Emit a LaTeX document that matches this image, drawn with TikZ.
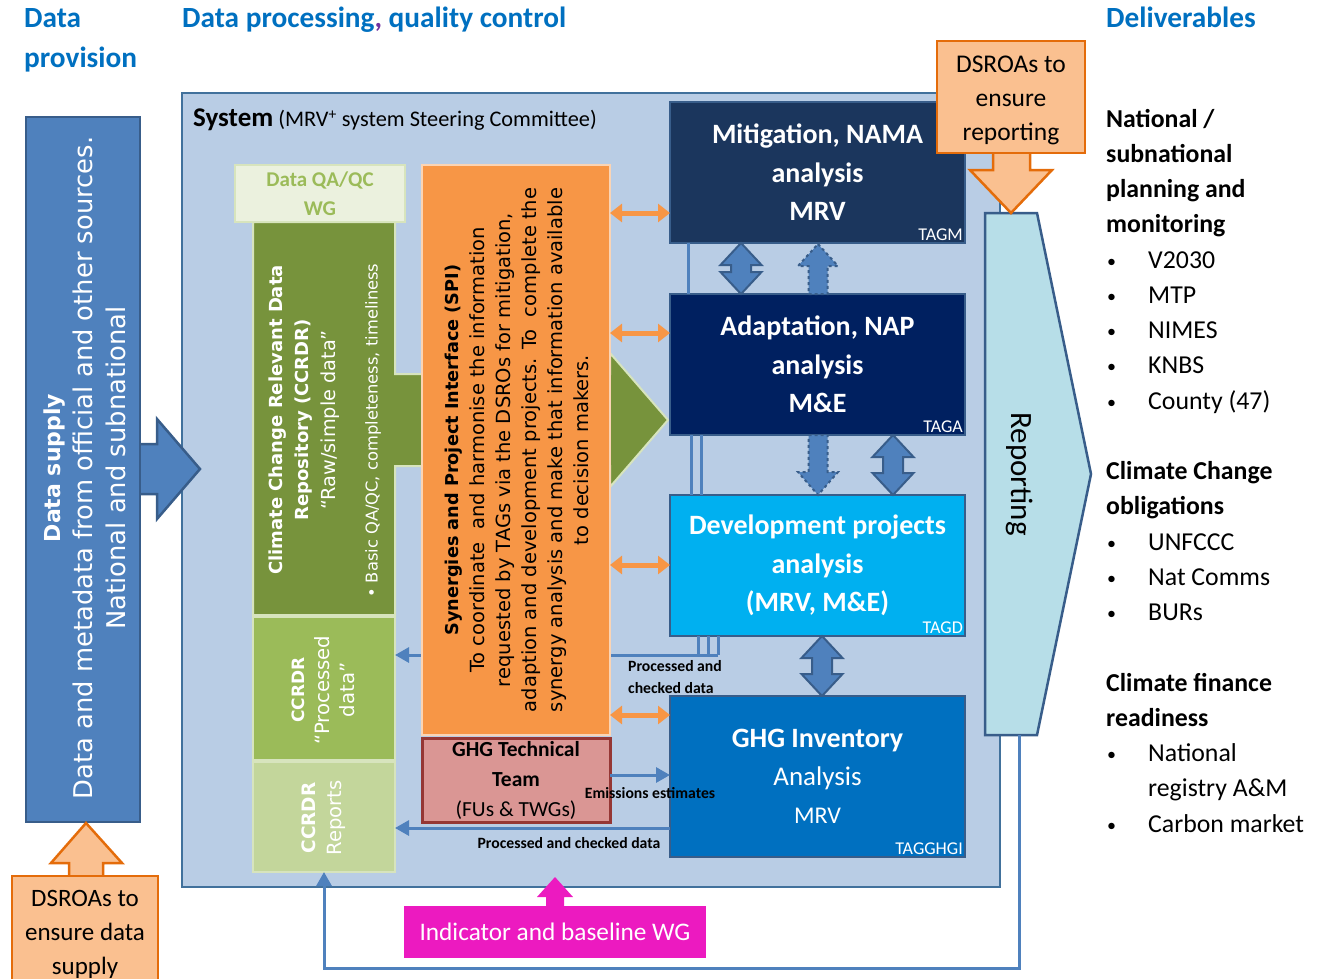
\documentclass[tikz,border=0pt]{standalone}
\usepackage{fontspec}
\setmainfont{Carlito}
\newfontfamily\vfont{DejaVu Sans}
\usetikzlibrary{arrows.meta}
\definecolor{hdrblue}{HTML}{0070C0}
\definecolor{sysbg}{HTML}{B9CDE5}
\definecolor{sysline}{HTML}{41719C}
\definecolor{supblue}{HTML}{4F81BD}
\definecolor{boxline}{HTML}{385D8A}
\definecolor{mitfill}{HTML}{1B365D}
\definecolor{adafill}{HTML}{002060}
\definecolor{devfill}{HTML}{00B0F0}
\definecolor{ghgfill}{HTML}{0070C0}
\definecolor{olivegr}{HTML}{77933C}
\definecolor{midgreen}{HTML}{9BBB59}
\definecolor{lightgreen}{HTML}{C3D69B}
\definecolor{palegreen}{HTML}{EBF1DE}
\definecolor{greenline}{HTML}{D7E4BD}
\definecolor{spiorange}{HTML}{F79646}
\definecolor{peach}{HTML}{FBD4B4}
\definecolor{dsroafill}{HTML}{FAC090}
\definecolor{dsroaline}{HTML}{E46C0A}
\definecolor{rosefill}{HTML}{DA9694}
\definecolor{roseline}{HTML}{953735}
\definecolor{repfill}{HTML}{B7DEE8}
\definecolor{magentawg}{HTML}{EC1AC0}
\newcommand\vdblarrow[4]{%
  \draw[#4] (#1,#2) -- (#1+20.5,#2+22) -- (#1+10,#2+22) -- (#1+10,#3-22) -- (#1+20.5,#3-22) -- (#1,#3)
  -- (#1-20.5,#3-22) -- (#1-10,#3-22) -- (#1-10,#2+22) -- (#1-20.5,#2+22) -- cycle;}
\newcommand\smbul{\makebox[42pt][l]{\hspace{1pt}\raisebox{1pt}{\fontsize{18}{18}\selectfont•}}}
\begin{document}
\begin{tikzpicture}[x=1pt,y=-1pt,
  box/.style={rectangle, inner sep=0pt, outer sep=0pt, anchor=north west},
  tagbox/.style={box, draw=boxline, line width=2.5pt, minimum width=295pt, text=white, align=center,
     font=\bfseries\fontsize{28}{38.5}\selectfont},
  taglabel/.style={anchor=south east, inner sep=2pt, text=white, font=\fontsize{18}{20}\selectfont},
  oarr/.style={draw=spiorange, line width=5pt, {Triangle[width=18pt,length=12pt]}-{Triangle[width=18pt,length=12pt]}},
  barr/.style={draw=supblue, line width=3pt, -{Triangle[width=15pt,length=14pt]}},
  bline/.style={draw=supblue, line width=3pt},
  blockarr/.style={fill=supblue, draw=boxline, line width=2pt},
  dashblock/.style={fill=supblue, draw=boxline, line width=2pt, dashed},
  dsroa/.style={fill=dsroafill, draw=dsroaline, line width=2.5pt},
  smalllbl/.style={font=\bfseries\fontsize{15.7}{22}\selectfont, inner sep=0pt},
  hdr/.style={anchor=west, text=hdrblue, inner sep=0pt, font=\bfseries\fontsize{29.3}{40}\selectfont}
]
\useasboundingbox (0,0) rectangle (1319,979);

% headers
\node[hdr, align=left] (hprov) at (24,40) {\strut Data\\provision\strut};
\node[hdr] (hproc) at (182,20) {\strut Data processing{\color[HTML]{7030A0},} quality control};
\node[hdr] (hdel) at (1106,20) {\strut Deliverables};

% system box
\node[box, fill=sysbg, draw=sysline, line width=2.5pt, minimum width=818pt, minimum height=794pt] (system) at (182,93) {};
\node[anchor=base west, inner sep=0pt, font=\fontsize{22.3}{25}\selectfont] (systxt) at (193,127) {{\fontsize{27}{30}\selectfont\bfseries System} (MRV\textsuperscript{+} system Steering Committee)};

% data supply
\draw[fill=supblue, draw=boxline, line width=2.5pt] (138,444) -- (157,444) -- (157,419) -- (200,469) -- (157,519) -- (157,494) -- (138,494);
\node[box, fill=supblue, draw=boxline, line width=2.5pt, minimum width=114pt, minimum height=705pt] (supply) at (26,117) {};
\node[rotate=90, align=center, text=white, font=\vfont\fontsize{25.8}{32.5}\selectfont] (supplytxt) at (84.5,468) {{\fontsize{22}{32.5}\selectfont\bfseries Data supply}\\Data and metadata from official and other sources.\\National and subnational};

% data supply DSROA
\draw[dsroa] (69,877) -- (69,863) -- (51,863) -- (86,823) -- (122,863) -- (103,863) -- (103,877);
\node[box, fill=dsroafill, draw=dsroaline, line width=2.5pt, minimum width=146pt, minimum height=110pt] (dsroasup) at (12,876) {};
\node[align=center, font=\fontsize{25}{34}\selectfont, inner sep=0pt] (dsroasuptxt) at (85,934) {DSROAs to\\ensure data\\supply};

% green repository + arrow
\draw[fill=olivegr, draw=greenline, line width=2pt] (253,222) -- (395,222) -- (395,374) -- (610,374) -- (610,353) -- (668,420) -- (610,487) -- (610,466) -- (395,466) -- (395,615) -- (253,615) -- cycle;
\node[rotate=90, align=center, text=white, font=\vfont\fontsize{19.3}{26.5}\selectfont] (ccrdrtxt) at (304,420) {{\fontsize{18}{26.5}\selectfont\bfseries Climate Change Relevant Data}\\{\fontsize{18}{26.5}\selectfont\bfseries Repository (CCRDR)}\\“Raw/simple data”};
\node[rotate=90, anchor=west, text=white, inner sep=0pt, font=\vfont\fontsize{16.3}{18}\selectfont] (ccrdrbul) at (373,598) {•\ Basic QA/QC, completeness, timeliness};
\node[box, fill=palegreen, draw=greenline, line width=2.5pt, minimum width=170pt, minimum height=57pt, align=center, text=midgreen, font=\bfseries\fontsize{21}{29}\selectfont] (qaqc) at (235,165) {Data QA/QC\\WG};

\node[box, fill=midgreen, draw=greenline, line width=2pt, minimum width=142pt, minimum height=143pt] (processed) at (253,617) {};
\node[rotate=90, align=center, text=white, font=\vfont\fontsize{19.7}{25}\selectfont] (processedtxt) at (323,690) {{\fontsize{17}{25}\selectfont\bfseries CCRDR}\\“Processed\\data”};
\node[box, fill=lightgreen, draw=greenline, line width=2pt, minimum width=142pt, minimum height=110pt] (reports) at (253,762) {};
\node[rotate=90, align=center, text=white, font=\vfont\fontsize{19.6}{26}\selectfont] (reportstxt) at (324,818) {{\fontsize{18.5}{26}\selectfont\bfseries CCRDR}\\Reports};

% TAG boxes
\node[tagbox, fill=mitfill, minimum height=141pt] (mit) at (670,102) {Mitigation, NAMA\\analysis\\MRV};
\node[tagbox, fill=adafill, minimum height=141pt] (adapt) at (670,294) {Adaptation, NAP\\analysis\\M\&E};
\node[tagbox, fill=devfill, minimum height=141pt] (dev) at (670,495) {Development projects\\analysis\\(MRV, M\&E)};
\node[tagbox, fill=ghgfill, minimum height=161pt, font=\fontsize{27}{38}\selectfont] (ghg) at (670,696) {{\fontsize{28}{38}\selectfont\bfseries GHG Inventory}\\Analysis\\{\fontsize{24}{36}\selectfont MRV}};
\node[taglabel] (tagm) at (mit.south east) {TAGM};
\node[taglabel] (taga) at (adapt.south east) {TAGA};
\node[taglabel] (tagd) at (dev.south east) {TAGD};
\node[taglabel] (tagg) at (ghg.south east) {TAGGHGI};

% thin connector lines between TAG boxes
\draw[bline] ([xshift=18pt]mit.south west) -- ([xshift=18pt]adapt.north west);
\draw[bline] ([xshift=21pt]adapt.south west) -- ([xshift=21pt]dev.north west);
\draw[bline] ([xshift=31pt]adapt.south west) -- ([xshift=31pt]dev.north west);
\coordinate (pcd) at (718,655);
\draw[bline] ([xshift=28pt]dev.south west) -- ([xshift=28pt]dev.south west |- pcd);
\draw[bline] ([xshift=38pt]dev.south west) -- ([xshift=38pt]dev.south west |- pcd);
\draw[bline] ([xshift=48pt]dev.south west) -- (pcd);
\draw[barr] (pcd) -- (processed.east |- pcd);

% SPI orange box
\node[box, fill=spiorange, draw=peach, line width=2.5pt, minimum width=188pt, minimum height=570pt] (spi) at (422,165) {};
\node[rotate=90, align=center, font=\vfont\fontsize{19.5}{26}\selectfont] (spitxt) at (517,450) {{\fontsize{17.7}{26}\selectfont\bfseries Synergies and Project Interface (SPI)}\\To coordinate\ \ and harmonise the information\\requested by TAGs via the DSROs for mitigation,\\adaption and development projects. To\ \ complete the\\synergy analysis and make that information available\\to decision makers.};

% GHG technical team
\node[box, fill=rosefill, draw=roseline, line width=3pt, minimum width=188pt, minimum height=84pt, align=center, font=\fontsize{21.5}{30}\selectfont] (ghgtt) at (422,738) {\textbf{GHG Technical}\\\textbf{Team}\\(FUs \& TWGs)};

% orange double arrows
\coordinate (lva) at (640,213);
\coordinate (lvb) at (640,333);
\coordinate (lvc) at (640,565);
\coordinate (lvd) at (640,715);
\draw[oarr] (spi.east |- lva) -- (mit.west |- lva);
\draw[oarr] (spi.east |- lvb) -- (adapt.west |- lvb);
\draw[oarr] (spi.east |- lvc) -- (dev.west |- lvc);
\draw[oarr] (spi.east |- lvd) -- (ghg.west |- lvd);

% block arrows between TAG boxes
\vdblarrow{741}{243}{294}{blockarr}
\draw[dashblock] (818,244) -- (838,266) -- (827.5,266) -- (827.5,294) -- (808.5,294) -- (808.5,266) -- (798,266) -- cycle;
\draw[dashblock] (808.5,435) -- (827.5,435) -- (827.5,472) -- (838,472) -- (818,495) -- (798,472) -- (808.5,472) -- cycle;
\vdblarrow{893}{435}{495}{blockarr}
\vdblarrow{822}{636}{696}{blockarr}

% GHG data flows
\coordinate (em) at (640,775);
\coordinate (pc2) at (540,828);
\draw[barr] (ghgtt.east |- em) -- (ghg.west |- em);
\draw[barr] (ghg.west |- pc2) -- (reports.east |- pc2);
\node[smalllbl, anchor=west, align=left] (pcdlbl) at (628,677) {Processed and\\checked data};
\node[smalllbl] (emlbl) at (650,793) {Emissions estimates};
\node[smalllbl] (pc2lbl) at (569,843) {Processed and checked data};

% Reporting
\draw[fill=repfill, draw=boxline, line width=2.5pt] (985,213) -- (1037,213) -- (1091,474) -- (1037,735) -- (985,735) -- cycle;
\coordinate (repbot) at (1019,735);
\node[rotate=-90, font=\fontsize{31}{34}\selectfont] (reptxt) at (1020,474) {Reporting};

% feedback loop
\coordinate (fbcorner) at (324,968);
\draw[barr] (repbot) |- (fbcorner) -- (reports.south);

% DSROA reporting
\draw[dsroa] (993,151) -- (993,170) -- (970,170) -- (1011,213) -- (1052,170) -- (1030,170) -- (1030,151);
\node[box, fill=dsroafill, draw=dsroaline, line width=2.5pt, minimum width=148pt, minimum height=112pt] (dsroarep) at (937,41) {};
\node[align=center, inner sep=0pt, font=\fontsize{25.5}{34}\selectfont] (dsroareptxt) at (1011,100) {DSROAs to\\ensure\\reporting};

% indicator WG
\node[box, fill=magentawg, minimum width=302pt, minimum height=52pt, text=white, font=\fontsize{25.3}{28}\selectfont] (indwg) at (404,906) {Indicator and baseline WG};
\fill[magentawg] (546,907) -- (546,897) -- (537,897) -- (555,877) -- (573,897) -- (564,897) -- (564,907) -- cycle;

% deliverables
\node[anchor=west, align=left, inner sep=0pt, font=\fontsize{25.8}{35.25}\selectfont] (deliv) at (1106,472.5) {%
\strut\textbf{National /}\\
\textbf{subnational}\\
\textbf{planning and}\\
\textbf{monitoring}\\
\smbul V2030\\
\smbul MTP\\
\smbul NIMES\\
\smbul KNBS\\
\smbul County (47)\\
\mbox{}\\
\textbf{Climate Change}\\
\textbf{obligations}\\
\smbul UNFCCC\\
\smbul Nat Comms\\
\smbul BURs\\
\mbox{}\\
\textbf{Climate finance}\\
\textbf{readiness}\\
\smbul National\\
\makebox[42pt][l]{}registry A\&M\\
\smbul Carbon market\strut};
\end{tikzpicture}
\end{document}
